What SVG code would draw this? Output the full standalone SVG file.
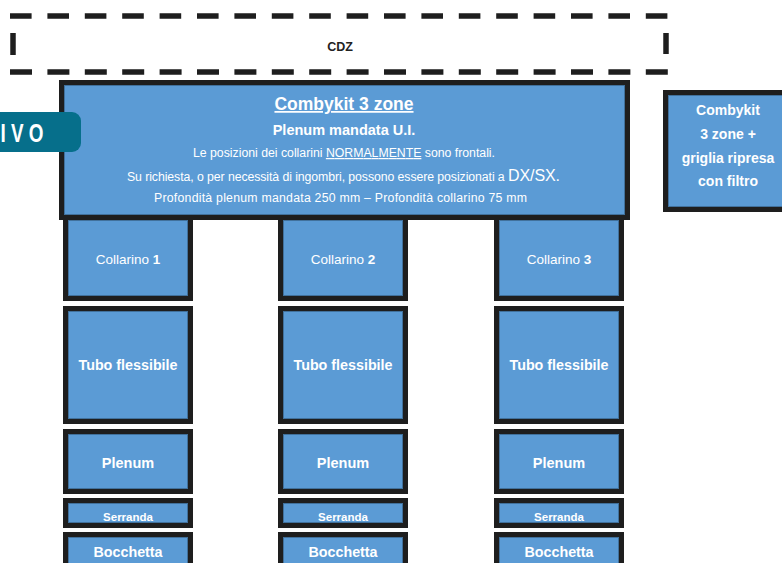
<svg xmlns="http://www.w3.org/2000/svg" width="782" height="563" viewBox="0 0 782 563">
<defs>
<style>
.bk{fill:#5B9BD5;stroke:#1E1E1E;stroke-width:5}
.in{fill:none;stroke:#41719C;stroke-width:1}
.t{font-family:"Liberation Sans",Arial,sans-serif;fill:#fff;text-anchor:middle}
.b{font-weight:bold}
.dash{stroke:#1E1E1E;stroke-width:5.5;fill:none}
</style>
</defs>
<rect width="782" height="563" fill="#fff"/>
<g id="cdz">
<line class="dash" x1="10" y1="16" x2="669" y2="16" stroke-dasharray="21.6 15.8"/>
<line class="dash" x1="10" y1="72" x2="669" y2="72" stroke-dasharray="22 15.4"/>
<line class="dash" x1="13" y1="33" x2="13" y2="55"/>
<line class="dash" x1="666" y1="33" x2="666" y2="54"/>
<text class="t b" x="340" y="51" font-size="12.5" style="fill:#222">CDZ</text>
</g>
<g id="main">
<rect class="bk" x="61.5" y="82.5" width="566" height="135"/>
<rect class="in" x="64.5" y="85.5" width="560" height="129"/>
<text class="t b" x="344" y="110" font-size="17.5" text-decoration="underline">Combykit 3 zone</text>
<text class="t b" x="344" y="135" font-size="14.5">Plenum mandata U.I.</text>
<text class="t" x="344" y="157" font-size="12.3" textLength="302">Le posizioni dei collarini <tspan text-decoration="underline">NORMALMENTE</tspan> sono frontali.</text>
<text class="t" x="343.5" y="181" font-size="12.3" textLength="433">Su richiesta, o per necessità di ingombri, possono essere posizionati a <tspan font-size="16">DX/SX.</tspan></text>
<text class="t" x="340.5" y="202" font-size="12.3" textLength="373">Profondità plenum mandata 250 mm – Profondità collarino  75 mm</text>
</g>
<g id="tab">
<rect x="-20" y="112" width="101" height="40" rx="9" fill="#066F8B"/>
<text class="b" x="0.5" y="142" font-size="25" font-family="'Liberation Sans Narrow','Liberation Sans',Arial,sans-serif" fill="#fff" textLength="43" lengthAdjust="spacingAndGlyphs">I V O</text>
</g>
<g id="side">
<rect class="bk" x="665.5" y="92.5" width="140" height="117"/>
<rect class="in" x="668.5" y="95.5" width="134" height="111"/>
<text class="t b" x="728" y="115" font-size="14">Combykit</text>
<text class="t b" x="728" y="139" font-size="14">3 zone +</text>
<text class="t b" x="728" y="162.5" font-size="14">griglia ripresa</text>
<text class="t b" x="728" y="186" font-size="14">con filtro</text>
</g>
<g id="col1">
<g id="collarino1"><rect class="bk" x="65.5" y="217.5" width="125" height="81"/><rect class="in" x="68.5" y="220.5" width="119" height="75"/><text class="t" x="128" y="264" font-size="13.5">Collarino <tspan class="b">1</tspan></text></g>
<g id="tubo1"><rect class="bk" x="65.5" y="308.5" width="125" height="113"/><rect class="in" x="68.5" y="311.5" width="119" height="107"/><text class="t b" x="128" y="370" font-size="14.3">Tubo flessibile</text></g>
<g id="plenum1"><rect class="bk" x="65.5" y="431.5" width="125" height="60"/><rect class="in" x="68.5" y="434.5" width="119" height="54"/><text class="t b" x="128" y="468" font-size="14.5">Plenum</text></g>
<g id="serranda1"><rect class="bk" x="65.5" y="500.5" width="125" height="25"/><rect class="in" x="68.5" y="503.5" width="119" height="19"/><text class="t b" x="128" y="521" font-size="11.5">Serranda</text></g>
<g id="bocchetta1"><rect class="bk" x="65.5" y="534.5" width="125" height="50"/><rect class="in" x="68.5" y="537.5" width="119" height="44"/><text class="t b" x="128" y="557" font-size="14.3">Bocchetta</text></g>
</g>
<g id="col2">
<g id="collarino2"><rect class="bk" x="280.5" y="217.5" width="125" height="81"/><rect class="in" x="283.5" y="220.5" width="119" height="75"/><text class="t" x="343" y="264" font-size="13.5">Collarino <tspan class="b">2</tspan></text></g>
<g id="tubo2"><rect class="bk" x="280.5" y="308.5" width="125" height="113"/><rect class="in" x="283.5" y="311.5" width="119" height="107"/><text class="t b" x="343" y="370" font-size="14.3">Tubo flessibile</text></g>
<g id="plenum2"><rect class="bk" x="280.5" y="431.5" width="125" height="60"/><rect class="in" x="283.5" y="434.5" width="119" height="54"/><text class="t b" x="343" y="468" font-size="14.5">Plenum</text></g>
<g id="serranda2"><rect class="bk" x="280.5" y="500.5" width="125" height="25"/><rect class="in" x="283.5" y="503.5" width="119" height="19"/><text class="t b" x="343" y="521" font-size="11.5">Serranda</text></g>
<g id="bocchetta2"><rect class="bk" x="280.5" y="534.5" width="125" height="50"/><rect class="in" x="283.5" y="537.5" width="119" height="44"/><text class="t b" x="343" y="557" font-size="14.3">Bocchetta</text></g>
</g>
<g id="col3">
<g id="collarino3"><rect class="bk" x="496.5" y="217.5" width="125" height="81"/><rect class="in" x="499.5" y="220.5" width="119" height="75"/><text class="t" x="559" y="264" font-size="13.5">Collarino <tspan class="b">3</tspan></text></g>
<g id="tubo3"><rect class="bk" x="496.5" y="308.5" width="125" height="113"/><rect class="in" x="499.5" y="311.5" width="119" height="107"/><text class="t b" x="559" y="370" font-size="14.3">Tubo flessibile</text></g>
<g id="plenum3"><rect class="bk" x="496.5" y="431.5" width="125" height="60"/><rect class="in" x="499.5" y="434.5" width="119" height="54"/><text class="t b" x="559" y="468" font-size="14.5">Plenum</text></g>
<g id="serranda3"><rect class="bk" x="496.5" y="500.5" width="125" height="25"/><rect class="in" x="499.5" y="503.5" width="119" height="19"/><text class="t b" x="559" y="521" font-size="11.5">Serranda</text></g>
<g id="bocchetta3"><rect class="bk" x="496.5" y="534.5" width="125" height="50"/><rect class="in" x="499.5" y="537.5" width="119" height="44"/><text class="t b" x="559" y="557" font-size="14.3">Bocchetta</text></g>
</g>
<g id="connectors"/>
</svg>
